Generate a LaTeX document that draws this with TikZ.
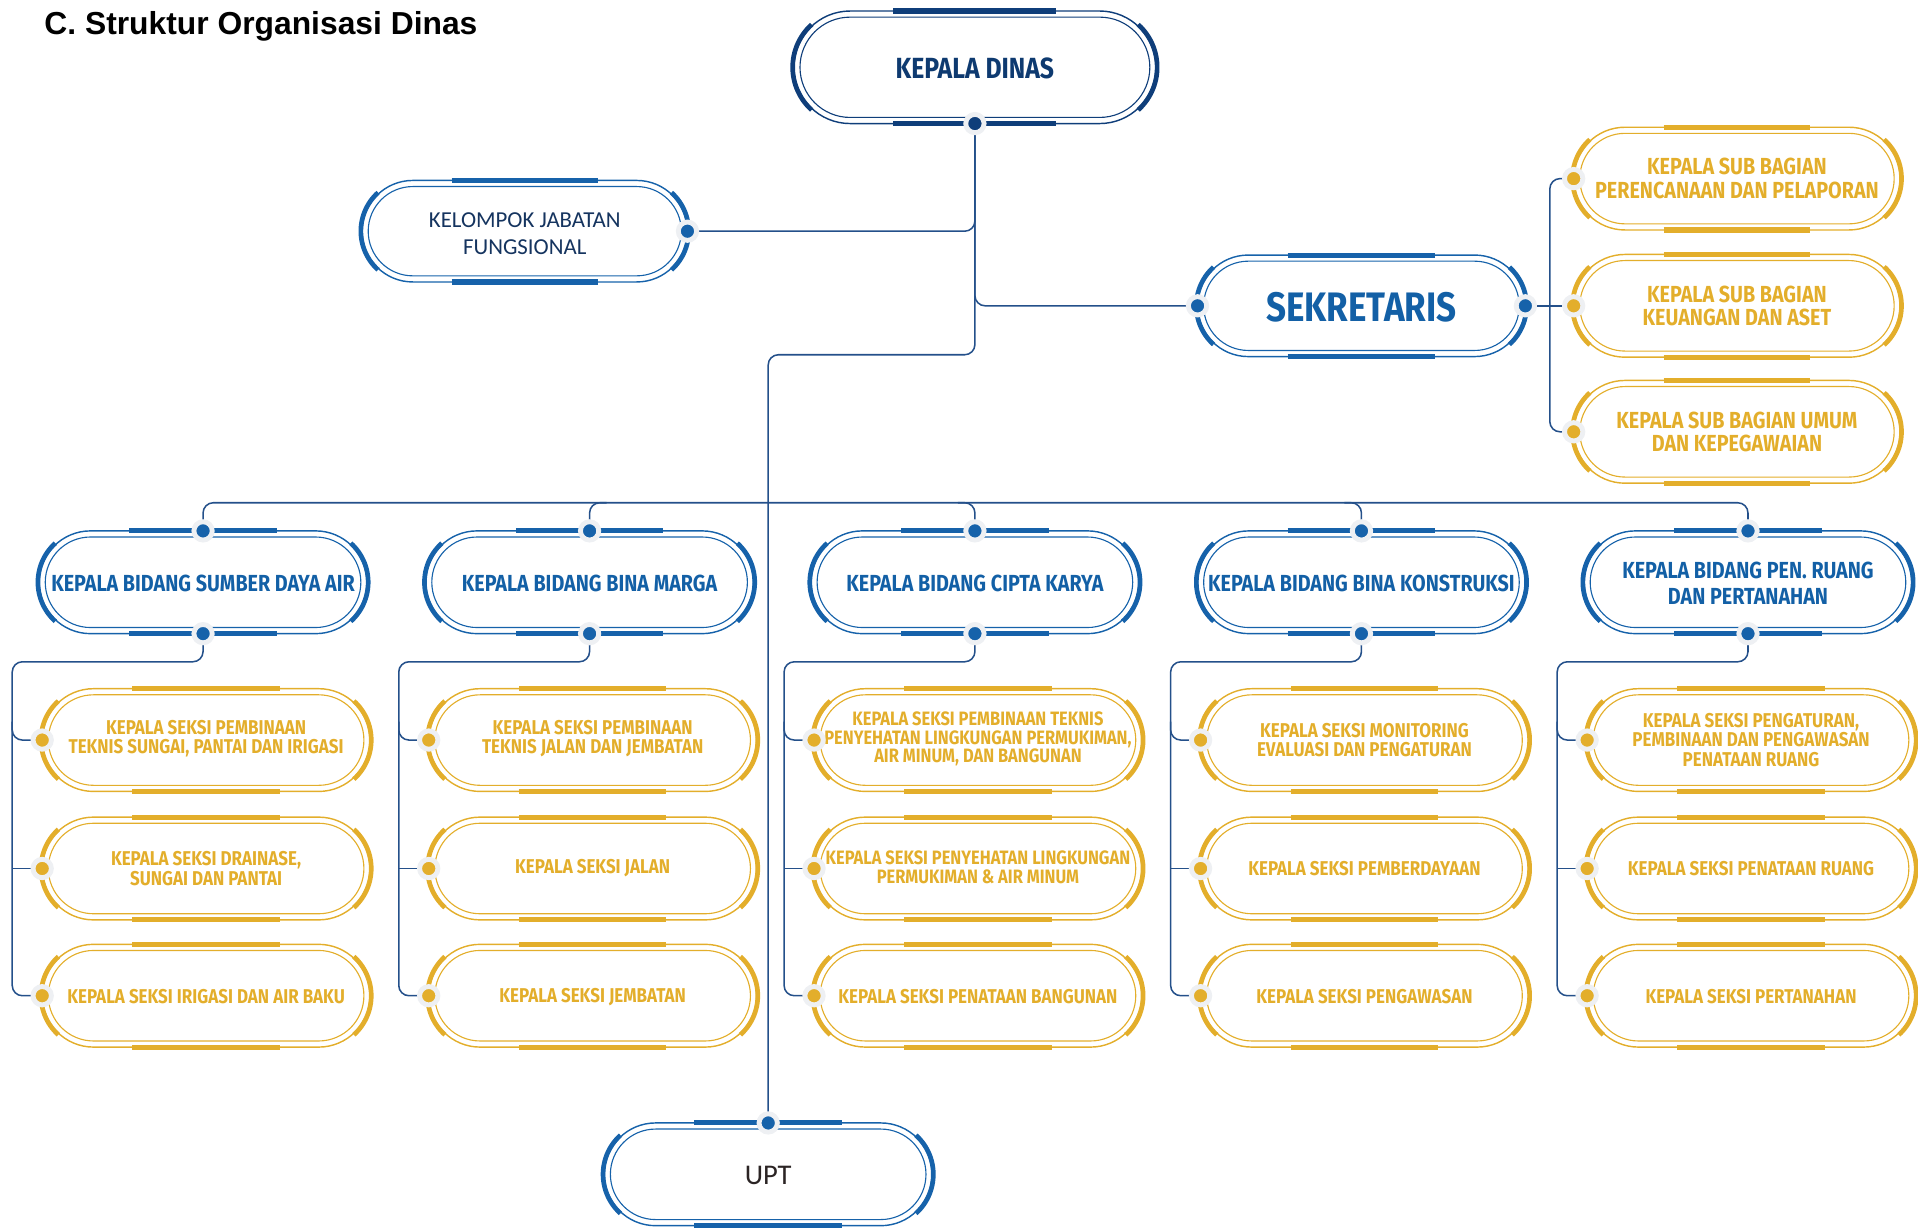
\documentclass[tikz,border=0pt]{standalone}
\usepackage{fontspec}
\usetikzlibrary{backgrounds,calc}
\newfontfamily\din[FakeStretch=0.85]{Fira Sans}
\newfontfamily\carl{Carlito}
\newfontfamily\libs{Liberation Sans}
\definecolor{kdc}{HTML}{0F3E7A}
\definecolor{bluec}{HTML}{1662AA}
\definecolor{bluet}{HTML}{1360A6}
\definecolor{kdtc}{HTML}{0E3A70}
\definecolor{navyt}{HTML}{15345F}
\definecolor{yelc}{HTML}{E3AE2B}
\definecolor{linec}{HTML}{24508A}
\definecolor{haloc}{HTML}{EEF0F3}
\definecolor{uptc}{HTML}{2B2424}
\newcommand\pill[5]{%
  \pgfmathsetmacro\pillL{#1-#3/2}%
  \pgfmathsetmacro\pillR{#1+#3/2}%
  \pgfmathsetmacro\pillT{#2-#4/2}%
  \pgfmathsetmacro\pillB{#2+#4/2}%
  \pgfmathsetmacro\pillr{#4/2}%
  \pgfmathsetmacro\pillrpt{#4/2*0.6}%
  \pgfmathsetmacro\pillipt{(#4/2-5)*0.6}%
  \pgfmathsetmacro\pillbh{0.225*#3}%
  \draw[draw=#5, line width=0.7pt, rounded corners=\pillrpt pt] (\pillL,\pillT) rectangle (\pillR,\pillB);
  \draw[draw=#5, line width=0.55pt, rounded corners=\pillipt pt] (\pillL+5,\pillT+5) rectangle (\pillR-5,\pillB-5);
  \draw[draw=#5, line width=2.5pt] (#1-\pillbh,\pillT) -- (#1+\pillbh,\pillT) (#1-\pillbh,\pillB) -- (#1+\pillbh,\pillB);
  \draw[draw=#5, line width=2.3pt] plot[domain=132:228,samples=30] ({\pillL+\pillr+(\pillr+1)*cos(\x)},{#2+(\pillr+1)*sin(\x)});
  \draw[draw=#5, line width=2.3pt] plot[domain=-48:48,samples=30] ({\pillR-\pillr+(\pillr+1)*cos(\x)},{#2+(\pillr+1)*sin(\x)});
}
\tikzset{
  conn/.style={draw=linec, line width=0.75pt, rounded corners=5pt},
  dotB/.style={circle, fill=bluec, draw=haloc, line width=2.4pt, minimum size=9pt, inner sep=0pt},
  dotK/.style={dotB, fill=kdc},
  dotY/.style={dotB, fill=yelc},
  tKD/.style={font=\din\bfseries\fontsize{14.3}{17}\selectfont, text=kdtc, inner sep=0pt},
  tSek/.style={font=\din\bfseries\fontsize{20.2}{22}\selectfont, text=bluet, inner sep=0pt},
  tBid/.style={font=\din\bfseries\fontsize{11.4}{12.6}\selectfont, text=bluet, align=center, inner sep=0pt},
  tSub/.style={font=\din\bfseries\fontsize{11.4}{11.6}\selectfont, text=yelc, align=center, inner sep=0pt},
  tSks/.style={font=\din\bfseries\fontsize{9.8}{9.4}\selectfont, text=yelc, align=center, inner sep=0pt},
  tSks3/.style={font=\din\bfseries\fontsize{9.5}{9}\selectfont, text=yelc, align=center, inner sep=0pt},
  tKJF/.style={font=\carl\fontsize{11.2}{13.2}\selectfont, text=navyt, align=center, inner sep=0pt},
  tUPT/.style={font=\carl\fontsize{14}{16}\selectfont, text=uptc, inner sep=0pt},
  ttl/.style={font=\libs\bfseries\fontsize{15.6}{18}\selectfont, anchor=base west, inner sep=0pt},
}
\begin{document}
\begin{tikzpicture}[x=0.6pt,y=-0.6pt]
\useasboundingbox (0,0) rectangle (1568,1004);
\node[ttl] (title) at (36,28) {C. Struktur Organisasi Dinas};

% ---------- pills ----------
\pill{797}{55}{296}{92}{kdc}
\pill{429}{189}{266}{83}{bluec}
\pill{1113}{250}{268}{83}{bluec}
\pill{1420}{146}{267}{84}{yelc}
\pill{1420}{250}{267}{84}{yelc}
\pill{1420}{353}{267}{84}{yelc}
\foreach \bx in {166,482,797,1113,1429}{
  \pill{\bx}{476}{268}{84}{bluec}
  \foreach \ry in {605,710,814}{
    \pill{\bx+2.5}{\ry}{268}{84}{yelc}
  }
}
\pill{628}{960}{268}{84}{bluec}

% ---------- texts ----------
\node[tKD] (kd) at (797,56) {KEPALA DINAS};
\node[tKJF] (kjf) at (429,191) {KELOMPOK JABATAN\\FUNGSIONAL};
\node[tSek] (sek) at (1113,251) {SEKRETARIS};
\node[tSub] (sb1) at (1420,146) {KEPALA SUB BAGIAN\\PERENCANAAN DAN PELAPORAN};
\node[tSub] (sb2) at (1420,250) {KEPALA SUB BAGIAN\\KEUANGAN DAN ASET};
\node[tSub] (sb3) at (1420,353) {KEPALA SUB BAGIAN UMUM\\DAN KEPEGAWAIAN};
\node[tBid] (b1) at (166,477) {KEPALA BIDANG SUMBER DAYA AIR};
\node[tBid] (b2) at (482,477) {KEPALA BIDANG BINA MARGA};
\node[tBid] (b3) at (797,477) {KEPALA BIDANG CIPTA KARYA};
\node[tBid] (b4) at (1113,477) {KEPALA BIDANG BINA KONSTRUKSI};
\node[tBid] (b5) at (1429,477) {KEPALA BIDANG PEN. RUANG\\DAN PERTANAHAN};
\node[tSks] (s11) at (168.5,604) {KEPALA SEKSI PEMBINAAN\\TEKNIS SUNGAI, PANTAI DAN IRIGASI};
\node[tSks] (s12) at (168.5,710) {KEPALA SEKSI DRAINASE,\\SUNGAI DAN PANTAI};
\node[tSks] (s13) at (168.5,815) {KEPALA SEKSI IRIGASI DAN AIR BAKU};
\node[tSks] (s21) at (484.5,604) {KEPALA SEKSI PEMBINAAN\\TEKNIS JALAN DAN JEMBATAN};
\node[tSks] (s22) at (484.5,710) {KEPALA SEKSI JALAN};
\node[tSks] (s23) at (484.5,815) {KEPALA SEKSI JEMBATAN};
\node[tSks3] (s31) at (799.5,604) {KEPALA SEKSI PEMBINAAN TEKNIS\\PENYEHATAN LINGKUNGAN PERMUKIMAN,\\AIR MINUM, DAN BANGUNAN};
\node[tSks3] (s32) at (799.5,709) {KEPALA SEKSI PENYEHATAN LINGKUNGAN\\PERMUKIMAN \& AIR MINUM};
\node[tSks] (s33) at (799.5,815) {KEPALA SEKSI PENATAAN BANGUNAN};
\node[tSks] (s41) at (1115.5,605) {KEPALA SEKSI MONITORING\\EVALUASI DAN PENGATURAN};
\node[tSks] (s42) at (1115.5,710) {KEPALA SEKSI PEMBERDAYAAN};
\node[tSks] (s43) at (1115.5,815) {KEPALA SEKSI PENGAWASAN};
\node[tSks] (s51) at (1431.5,605) {KEPALA SEKSI PENGATURAN,\\PEMBINAAN DAN PENGAWASAN\\PENATAAN RUANG};
\node[tSks] (s52) at (1431.5,710) {KEPALA SEKSI PENATAAN RUANG};
\node[tSks] (s53) at (1431.5,815) {KEPALA SEKSI PERTANAHAN};
\node[tUPT] (upt) at (628,961) {UPT};

% ---------- dots ----------
\node[dotK] (kd-b) at (797,101) {};
\node[dotB] (kjf-r) at (562,189) {};
\node[dotB] (sek-l) at (979,250) {};
\node[dotB] (sek-r) at (1247,250) {};
\node[dotY] (sb1-l) at (1286.5,146) {};
\node[dotY] (sb2-l) at (1286.5,250) {};
\node[dotY] (sb3-l) at (1286.5,353) {};
\foreach \i/\bx in {1/166,2/482,3/797,4/1113,5/1429}{
  \node[dotB] (b\i-t) at (\bx,434) {};
  \node[dotB] (b\i-b) at (\bx,518) {};
  \node[dotY] (s\i1-l) at (\bx-131.5,605) {};
  \node[dotY] (s\i2-l) at (\bx-131.5,710) {};
  \node[dotY] (s\i3-l) at (\bx-131.5,814) {};
  \coordinate (c\i-a) at (\bx,541);
  \coordinate (c\i-v) at (\bx-156,541);
  \coordinate (c\i-m) at (\bx-156,590);
  \coordinate (c\i-w) at (\bx-156,814);
}
\node[dotB] (upt-t) at (628,918) {};
\coordinate (trk) at (628,290);
\coordinate (sbx) at (1267,250);
\coordinate (busL) at (166,411);
\coordinate (busR) at (1429,411);

% ---------- connectors ----------
\begin{scope}[on background layer]
\draw[conn] (kd-b.center) |- (trk) -- (upt-t.center);
\draw[conn] (kd-b.center) |- (kjf-r.center);
\draw[conn] (kd-b.center) |- (sek-l.center);
\draw[conn] (sek-r.center) -- (sb2-l.center);
\draw[conn] (sb1-l.center) -| (sbx) |- (sb3-l.center);
\draw[conn] (b1-t.center) -- (busL) -- (busR) -- (b5-t.center);
\draw[conn] (b2-t.center) -- ++(0,-23) -- ++(14,0);
\draw[conn] (b3-t.center) -- ++(0,-23) -- ++(-14,0);
\draw[conn] (b4-t.center) -- ++(0,-23) -- ++(-14,0);
\foreach \i in {1,...,5}{
  \draw[conn] (b\i-b.center) -- (c\i-a) -- (c\i-v) -- (c\i-w) -- (s\i3-l.center);
  \draw[conn] (c\i-m) |- (s\i1-l.center);
  \draw[conn] (s\i2-l.center) -- (s\i2-l.center -| c\i-v);
}
\end{scope}
\end{tikzpicture}
\end{document}
